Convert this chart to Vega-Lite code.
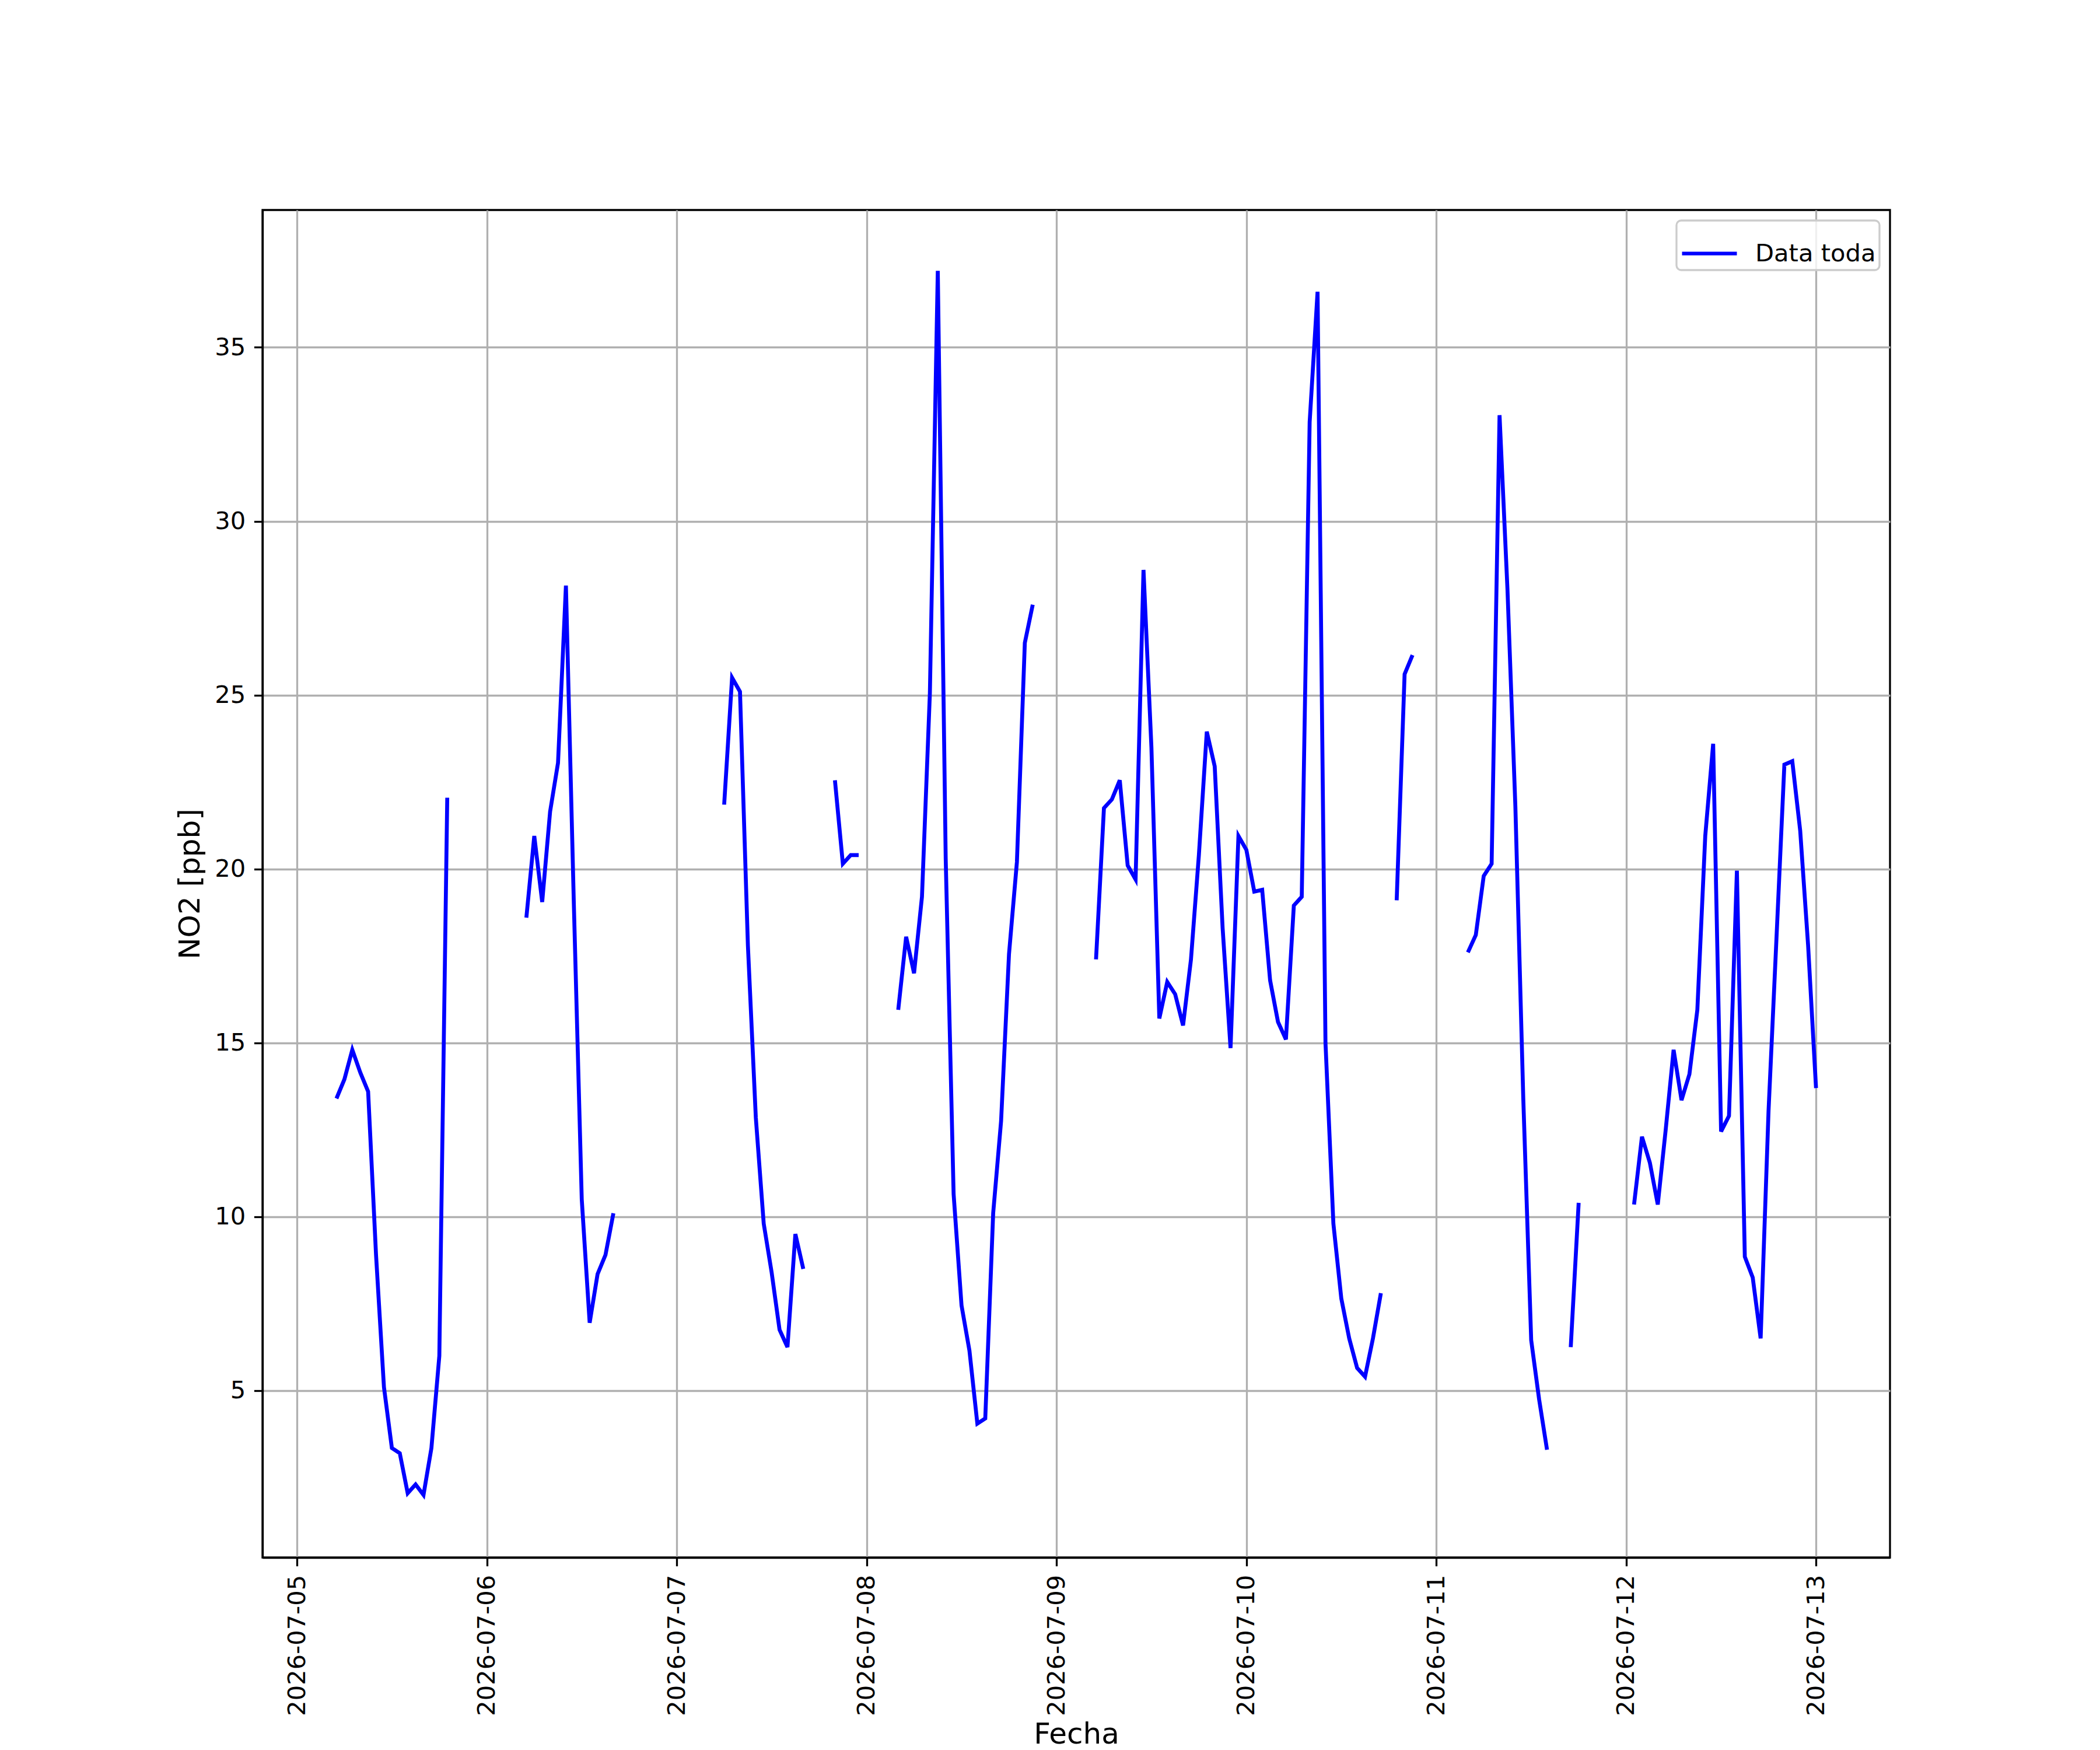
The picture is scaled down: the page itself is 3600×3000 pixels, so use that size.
{
  "$schema": "https://vega.github.io/schema/vega-lite/v6.json",
  "width": 2790,
  "height": 2310,
  "autosize": {"type": "none"},
  "padding": {"left": 450, "top": 360, "right": 360, "bottom": 330},
  "background": "white",
  "data": {
    "values": [
      {"fecha": "2026-07-05T05:00:00", "no2": 13.4},
      {"fecha": "2026-07-05T06:00:00", "no2": 13.95},
      {"fecha": "2026-07-05T07:00:00", "no2": 14.8},
      {"fecha": "2026-07-05T08:00:00", "no2": 14.15},
      {"fecha": "2026-07-05T09:00:00", "no2": 13.6},
      {"fecha": "2026-07-05T10:00:00", "no2": 8.9},
      {"fecha": "2026-07-05T11:00:00", "no2": 5.1},
      {"fecha": "2026-07-05T12:00:00", "no2": 3.35},
      {"fecha": "2026-07-05T13:00:00", "no2": 3.2},
      {"fecha": "2026-07-05T14:00:00", "no2": 2.05},
      {"fecha": "2026-07-05T15:00:00", "no2": 2.3},
      {"fecha": "2026-07-05T16:00:00", "no2": 2.0},
      {"fecha": "2026-07-05T17:00:00", "no2": 3.35},
      {"fecha": "2026-07-05T18:00:00", "no2": 6.0},
      {"fecha": "2026-07-05T19:00:00", "no2": 22.05},
      {"fecha": "2026-07-05T20:00:00", "no2": null},
      {"fecha": "2026-07-06T05:00:00", "no2": 18.6},
      {"fecha": "2026-07-06T06:00:00", "no2": 20.95},
      {"fecha": "2026-07-06T07:00:00", "no2": 19.05},
      {"fecha": "2026-07-06T08:00:00", "no2": 21.65},
      {"fecha": "2026-07-06T09:00:00", "no2": 23.05},
      {"fecha": "2026-07-06T10:00:00", "no2": 28.15},
      {"fecha": "2026-07-06T11:00:00", "no2": 19.0},
      {"fecha": "2026-07-06T12:00:00", "no2": 10.5},
      {"fecha": "2026-07-06T13:00:00", "no2": 6.95},
      {"fecha": "2026-07-06T14:00:00", "no2": 8.35},
      {"fecha": "2026-07-06T15:00:00", "no2": 8.9},
      {"fecha": "2026-07-06T16:00:00", "no2": 10.1},
      {"fecha": "2026-07-06T17:00:00", "no2": null},
      {"fecha": "2026-07-07T06:00:00", "no2": 21.85},
      {"fecha": "2026-07-07T07:00:00", "no2": 25.5},
      {"fecha": "2026-07-07T08:00:00", "no2": 25.1},
      {"fecha": "2026-07-07T09:00:00", "no2": 17.8},
      {"fecha": "2026-07-07T10:00:00", "no2": 12.85},
      {"fecha": "2026-07-07T11:00:00", "no2": 9.8},
      {"fecha": "2026-07-07T12:00:00", "no2": 8.4},
      {"fecha": "2026-07-07T13:00:00", "no2": 6.75},
      {"fecha": "2026-07-07T14:00:00", "no2": 6.25},
      {"fecha": "2026-07-07T15:00:00", "no2": 9.5},
      {"fecha": "2026-07-07T16:00:00", "no2": 8.5},
      {"fecha": "2026-07-07T17:00:00", "no2": null},
      {"fecha": "2026-07-07T20:00:00", "no2": 22.55},
      {"fecha": "2026-07-07T21:00:00", "no2": 20.15},
      {"fecha": "2026-07-07T22:00:00", "no2": 20.4},
      {"fecha": "2026-07-07T23:00:00", "no2": 20.4},
      {"fecha": "2026-07-08T00:00:00", "no2": null},
      {"fecha": "2026-07-08T04:00:00", "no2": 15.95},
      {"fecha": "2026-07-08T05:00:00", "no2": 18.05},
      {"fecha": "2026-07-08T06:00:00", "no2": 17.0},
      {"fecha": "2026-07-08T07:00:00", "no2": 19.2},
      {"fecha": "2026-07-08T08:00:00", "no2": 25.05},
      {"fecha": "2026-07-08T09:00:00", "no2": 37.2},
      {"fecha": "2026-07-08T10:00:00", "no2": 20.3},
      {"fecha": "2026-07-08T11:00:00", "no2": 10.65},
      {"fecha": "2026-07-08T12:00:00", "no2": 7.45},
      {"fecha": "2026-07-08T13:00:00", "no2": 6.15},
      {"fecha": "2026-07-08T14:00:00", "no2": 4.05},
      {"fecha": "2026-07-08T15:00:00", "no2": 4.2},
      {"fecha": "2026-07-08T16:00:00", "no2": 10.1},
      {"fecha": "2026-07-08T17:00:00", "no2": 12.75},
      {"fecha": "2026-07-08T18:00:00", "no2": 17.55},
      {"fecha": "2026-07-08T19:00:00", "no2": 20.2},
      {"fecha": "2026-07-08T20:00:00", "no2": 26.5},
      {"fecha": "2026-07-08T21:00:00", "no2": 27.6},
      {"fecha": "2026-07-08T22:00:00", "no2": null},
      {"fecha": "2026-07-09T05:00:00", "no2": 17.4},
      {"fecha": "2026-07-09T06:00:00", "no2": 21.75},
      {"fecha": "2026-07-09T07:00:00", "no2": 22.0},
      {"fecha": "2026-07-09T08:00:00", "no2": 22.55},
      {"fecha": "2026-07-09T09:00:00", "no2": 20.1},
      {"fecha": "2026-07-09T10:00:00", "no2": 19.7},
      {"fecha": "2026-07-09T11:00:00", "no2": 28.6},
      {"fecha": "2026-07-09T12:00:00", "no2": 23.5},
      {"fecha": "2026-07-09T13:00:00", "no2": 15.7},
      {"fecha": "2026-07-09T14:00:00", "no2": 16.75},
      {"fecha": "2026-07-09T15:00:00", "no2": 16.4},
      {"fecha": "2026-07-09T16:00:00", "no2": 15.5},
      {"fecha": "2026-07-09T17:00:00", "no2": 17.4},
      {"fecha": "2026-07-09T18:00:00", "no2": 20.4},
      {"fecha": "2026-07-09T19:00:00", "no2": 23.95},
      {"fecha": "2026-07-09T20:00:00", "no2": 22.95},
      {"fecha": "2026-07-09T21:00:00", "no2": 18.3},
      {"fecha": "2026-07-09T22:00:00", "no2": 14.85},
      {"fecha": "2026-07-09T23:00:00", "no2": 20.95},
      {"fecha": "2026-07-10T00:00:00", "no2": 20.55},
      {"fecha": "2026-07-10T01:00:00", "no2": 19.35},
      {"fecha": "2026-07-10T02:00:00", "no2": 19.4},
      {"fecha": "2026-07-10T03:00:00", "no2": 16.8},
      {"fecha": "2026-07-10T04:00:00", "no2": 15.6},
      {"fecha": "2026-07-10T05:00:00", "no2": 15.1},
      {"fecha": "2026-07-10T06:00:00", "no2": 18.95},
      {"fecha": "2026-07-10T07:00:00", "no2": 19.2},
      {"fecha": "2026-07-10T08:00:00", "no2": 32.85},
      {"fecha": "2026-07-10T09:00:00", "no2": 36.6},
      {"fecha": "2026-07-10T10:00:00", "no2": 15.0},
      {"fecha": "2026-07-10T11:00:00", "no2": 9.8},
      {"fecha": "2026-07-10T12:00:00", "no2": 7.65},
      {"fecha": "2026-07-10T13:00:00", "no2": 6.5},
      {"fecha": "2026-07-10T14:00:00", "no2": 5.65},
      {"fecha": "2026-07-10T15:00:00", "no2": 5.4},
      {"fecha": "2026-07-10T16:00:00", "no2": 6.5},
      {"fecha": "2026-07-10T17:00:00", "no2": 7.8},
      {"fecha": "2026-07-10T18:00:00", "no2": null},
      {"fecha": "2026-07-10T19:00:00", "no2": 19.1},
      {"fecha": "2026-07-10T20:00:00", "no2": 25.6},
      {"fecha": "2026-07-10T21:00:00", "no2": 26.15},
      {"fecha": "2026-07-10T22:00:00", "no2": null},
      {"fecha": "2026-07-11T04:00:00", "no2": 17.6},
      {"fecha": "2026-07-11T05:00:00", "no2": 18.1},
      {"fecha": "2026-07-11T06:00:00", "no2": 19.8},
      {"fecha": "2026-07-11T07:00:00", "no2": 20.15},
      {"fecha": "2026-07-11T08:00:00", "no2": 33.05},
      {"fecha": "2026-07-11T09:00:00", "no2": 28.05},
      {"fecha": "2026-07-11T10:00:00", "no2": 21.8},
      {"fecha": "2026-07-11T11:00:00", "no2": 13.4},
      {"fecha": "2026-07-11T12:00:00", "no2": 6.45},
      {"fecha": "2026-07-11T13:00:00", "no2": 4.75},
      {"fecha": "2026-07-11T14:00:00", "no2": 3.3},
      {"fecha": "2026-07-11T15:00:00", "no2": null},
      {"fecha": "2026-07-11T17:00:00", "no2": 6.25},
      {"fecha": "2026-07-11T18:00:00", "no2": 10.4},
      {"fecha": "2026-07-11T19:00:00", "no2": null},
      {"fecha": "2026-07-12T01:00:00", "no2": 10.35},
      {"fecha": "2026-07-12T02:00:00", "no2": 12.3},
      {"fecha": "2026-07-12T03:00:00", "no2": 11.55},
      {"fecha": "2026-07-12T04:00:00", "no2": 10.35},
      {"fecha": "2026-07-12T05:00:00", "no2": 12.5},
      {"fecha": "2026-07-12T06:00:00", "no2": 14.8},
      {"fecha": "2026-07-12T07:00:00", "no2": 13.35},
      {"fecha": "2026-07-12T08:00:00", "no2": 14.1},
      {"fecha": "2026-07-12T09:00:00", "no2": 15.95},
      {"fecha": "2026-07-12T10:00:00", "no2": 20.95},
      {"fecha": "2026-07-12T11:00:00", "no2": 23.6},
      {"fecha": "2026-07-12T12:00:00", "no2": 12.45},
      {"fecha": "2026-07-12T13:00:00", "no2": 12.9},
      {"fecha": "2026-07-12T14:00:00", "no2": 19.95},
      {"fecha": "2026-07-12T15:00:00", "no2": 8.85},
      {"fecha": "2026-07-12T16:00:00", "no2": 8.25},
      {"fecha": "2026-07-12T17:00:00", "no2": 6.5},
      {"fecha": "2026-07-12T18:00:00", "no2": 13.05},
      {"fecha": "2026-07-12T19:00:00", "no2": 18.0},
      {"fecha": "2026-07-12T20:00:00", "no2": 23.0},
      {"fecha": "2026-07-12T21:00:00", "no2": 23.1},
      {"fecha": "2026-07-12T22:00:00", "no2": 21.1},
      {"fecha": "2026-07-12T23:00:00", "no2": 17.8},
      {"fecha": "2026-07-13T00:00:00", "no2": 13.7}
    ]
  },
  "mark": {"type": "line", "strokeWidth": 6.7, "invalid": "break-paths-filter-domains", "clip": true},
  "encoding": {
    "x": {
      "field": "fecha",
      "type": "temporal",
      "scale": {"domain": ["2026-07-04T19:39:00", "2026-07-13T09:21:00"]},
      "axis": {
        "title": "Fecha",
        "format": "%Y-%m-%d",
        "tickCount": "day",
        "labelAngle": 270,
        "labelPadding": 14.6,
        "titlePadding": 78
      }
    },
    "y": {
      "field": "no2",
      "type": "quantitative",
      "scale": {"domain": [0.2, 38.95], "nice": false, "zero": false},
      "axis": {
        "title": "NO2 [ppb]",
        "values": [5, 10, 15, 20, 25, 30, 35],
        "labelPadding": 14.6,
        "titlePadding": 16.7
      }
    },
    "color": {
      "datum": "Data toda",
      "type": "nominal",
      "scale": {"range": ["#0000ff"]},
      "legend": {
        "title": null,
        "orient": "top-right",
        "offset": 18,
        "padding": 6,
        "strokeColor": "#cccccc",
        "fillColor": "rgba(255,255,255,0.8)",
        "cornerRadius": 8,
        "symbolType": "stroke",
        "symbolStrokeWidth": 6.25,
        "symbolSize": 8836,
        "symbolStrokeColor": "#0000ff",
        "labelFontSize": 41.67,
        "labelFont": "DejaVu Sans",
        "labelColor": "black",
        "labelOffset": 28,
        "labelLimit": 0
      }
    }
  },
  "config": {
    "view": {"stroke": "black", "strokeWidth": 3.3},
    "legend": {"strokeWidth": 3.3},
    "axis": {
      "labelFont": "DejaVu Sans",
      "labelFontSize": 41.67,
      "labelColor": "black",
      "labelLimit": 0,
      "titleFont": "DejaVu Sans",
      "titleFontSize": 50,
      "titleFontWeight": "normal",
      "titleColor": "black",
      "domainColor": "black",
      "domainWidth": 3.3,
      "tickColor": "black",
      "tickWidth": 3.3,
      "tickSize": 14.6,
      "grid": true,
      "gridColor": "#b0b0b0",
      "gridWidth": 3.3,
      "labelFlush": false,
      "labelOverlap": false
    }
  }
}
